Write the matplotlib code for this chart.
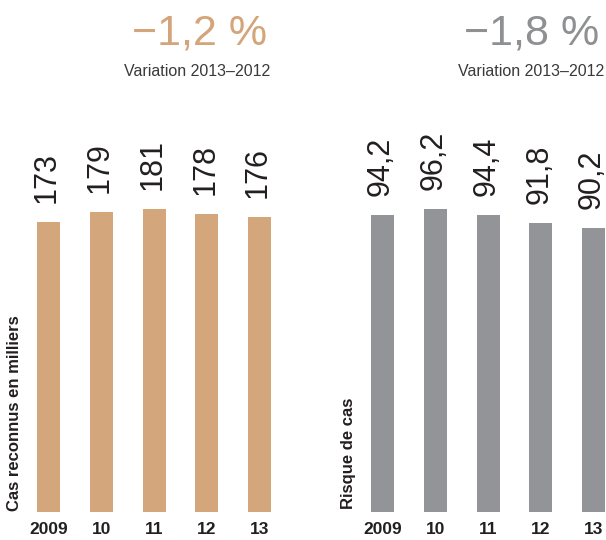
import matplotlib
matplotlib.use("Agg")
import matplotlib.pyplot as plt

plt.rcParams['font.family'] = ['Liberation Sans', 'DejaVu Sans']

years = ["2009", "10", "11", "12", "13"]
cas_values = [173, 179, 181, 178, 176]
cas_labels = ["173", "179", "181", "178", "176"]
risque_values = [94.2, 96.2, 94.4, 91.8, 90.2]
risque_labels = ["94,2", "96,2", "94,4", "91,8", "90,2"]
left_heading = "\u22121,2 %"
right_heading = "\u22121,8 %"
sub_heading = "Variation 2013\u20132012"
left_ylabel = "Cas reconnus en milliers"
right_ylabel = "Risque de cas"

TAN = "#D4A67B"
GRAY = "#939497"
TAN_H = "#D4A57A"
GRAY_H = "#8F9092"
DARK = "#231F20"

W, H = 606, 540
fig = plt.figure(figsize=(W / 100, H / 100), dpi=100)

def px_axes(x0, x1, ytop, ybot):
    return fig.add_axes([x0 / W, 1 - ybot / H, (x1 - x0) / W, (ybot - ytop) / H])

spacing = 52.75
def panel(center0, values, labels, ymax, color, ylabel, ylabel_x, ylabel_bottom):
    x0 = center0 - spacing / 2
    ax = px_axes(x0, x0 + 5 * spacing, 100, 512)
    xs = list(range(len(values)))
    ax.bar(xs, values, width=23 / spacing, color=color, linewidth=0)
    ax.set_xlim(-0.5, 4.5)
    ax.set_ylim(0, ymax)
    for s in ax.spines.values():
        s.set_visible(False)
    ax.set_yticks([])
    ax.set_xticks(xs)
    ax.set_xticklabels(years, fontsize=12.5, fontweight='bold', color=DARK)
    ax.tick_params(axis='x', length=0, pad=7.5)
    for x, v, lab in zip(xs, values, labels):
        ax.annotate(lab, (x, v), xytext=(-1, 13.5), textcoords='offset points',
                    rotation=90, ha='center', va='bottom', fontsize=22, color=DARK)
    fig.text(ylabel_x / W, 1 - ylabel_bottom / H, ylabel, rotation=90,
             ha='center', va='bottom', fontsize=12, fontweight='bold', color=DARK)
    return ax

panel(48.5, cas_values, cas_labels, 245.8, TAN, left_ylabel, 15, 511)
panel(382.5, risque_values, risque_labels, 130.75, GRAY, right_ylabel, 349, 509)

fig.text(267 / W, 1 - 45 / H, left_heading, ha='right', va='baseline',
         fontsize=31, color=TAN_H)
fig.text(270 / W, 1 - 76 / H, sub_heading, ha='right', va='baseline',
         fontsize=11.5, color="#3a3a3a")
fig.text(599 / W, 1 - 45 / H, right_heading, ha='right', va='baseline',
         fontsize=31, color=GRAY_H)
fig.text(604 / W, 1 - 76 / H, sub_heading, ha='right', va='baseline',
         fontsize=11.5, color="#3a3a3a")

fig.savefig("out.png", dpi=100)
